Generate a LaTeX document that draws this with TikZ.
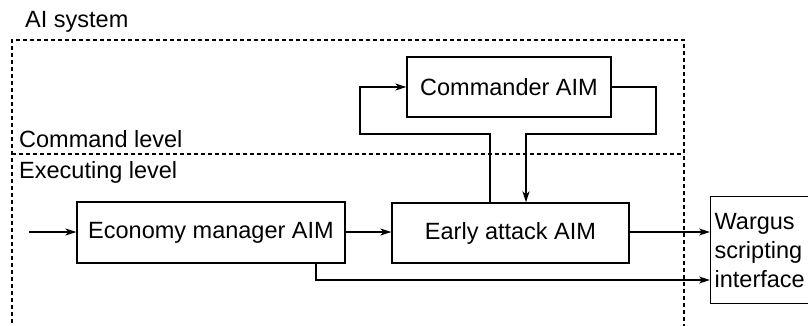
\documentclass[tikz,border=0pt]{standalone}
\usepackage{fontspec}
\setmainfont{Liberation Sans}
\usetikzlibrary{arrows.meta}
\begin{document}
\begin{tikzpicture}[x=1pt,y=-1pt,
  every node/.style={font=\fontsize{23.5}{29}\selectfont},
  box/.style={draw, line width=1.3pt, inner sep=0pt},
  conn/.style={line width=1.4pt, -{Stealth[length=11pt,width=7pt,inset=3pt]}},
  dashline/.style={line width=1.3pt, dash pattern=on 4pt off 3pt},
  lbl/.style={anchor=base west, inner sep=0pt}]
\useasboundingbox (0,0) rectangle (808,326);
\clip (0,0) rectangle (808,326);
% frames
\draw[dashline] (12,330) -- (12,40) -- (684,40) -- (684,330);
\draw[dashline] (12,154) -- (684,154);
\node[lbl] (ai) at (25,28) {AI system};
\node[lbl] (cl) at (19,147) {Command level};
\node[lbl] (el) at (19,178) {Executing level};
% boxes
\node[box, minimum width=204pt, minimum height=60pt] (comm) at (509,87) {Commander AIM};
\node[box, minimum width=237pt, minimum height=60pt] (early) at (510.5,233) {Early attack AIM};
\node[box, minimum width=268pt, minimum height=61pt] (econ) at (211,232.5) {Economy manager AIM};
\node[box, minimum width=112pt, minimum height=107pt, align=left, text width=104pt, inner xsep=4pt, anchor=north west] (warg) at (710,196) {Wargus\\scripting\\interface};
% connectors
\coordinate (in) at (29,232);
\draw[conn] (in) -- (econ.west |- in);
\draw[conn] (econ.east |- in) -- (early.west |- in);
\draw[conn] (early.east |- in) -- (warg.west |- in);
\coordinate (eb) at (316,280);
\draw[conn] (econ.south -| eb) -- (eb) -- (warg.west |- eb);
\draw[conn] (early.north -| 490,0) -- (490,134) -- (360,134) -- (360,87) -- (comm.west);
\draw[conn] (comm.east) -- (656,87) -- (656,134) -- (526,134) -- (early.north -| 526,0);
\end{tikzpicture}
\end{document}
